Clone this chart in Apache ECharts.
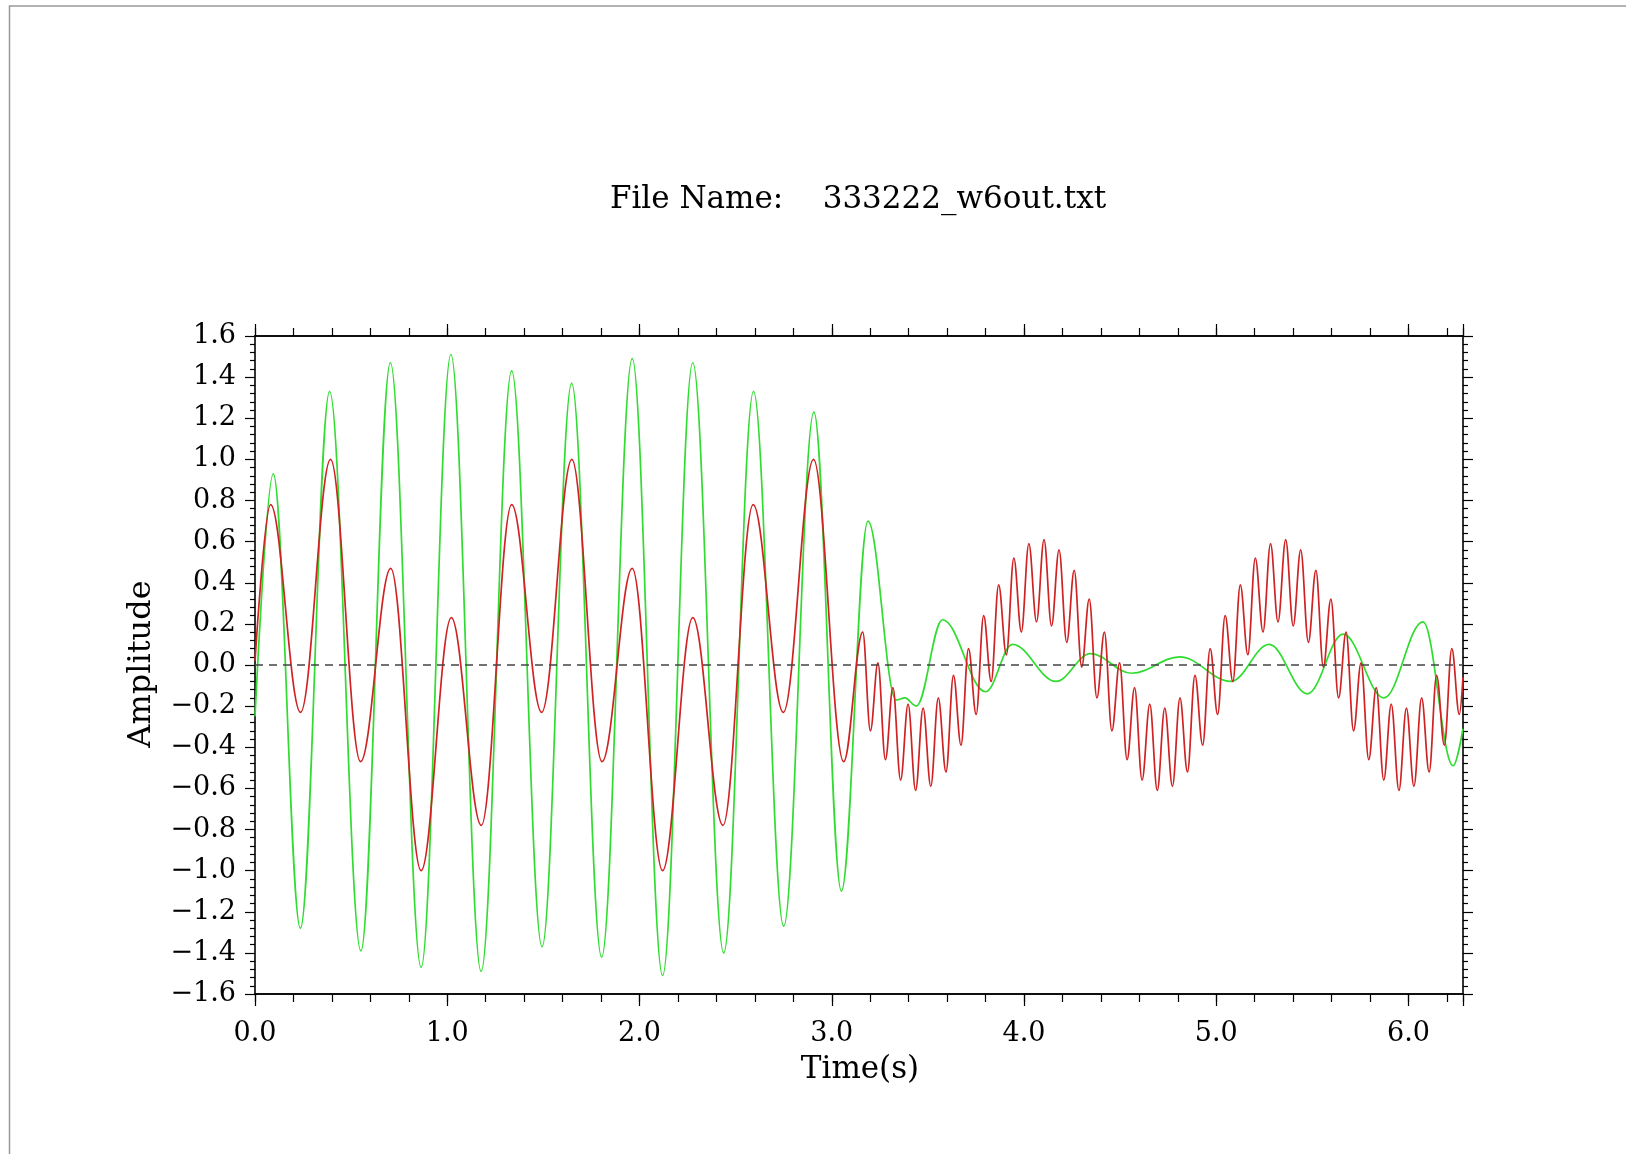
<!DOCTYPE html>
<html>
<head>
<meta charset="utf-8">
<script src="https://cdn.jsdelivr.net/npm/echarts@6/dist/echarts.min.js"></script>
<style>
  html, body { margin: 0; padding: 0; background: #fff; }
  #chart { width: 1626px; height: 1154px; }
</style>
</head>
<body>
<div id="chart"></div>
<script>
// Axis ranges
const timeRange = [0, 6.2832];
const ampRange = [-1.6, 1.6];

// Input signal (red): turning points [time s, amplitude], first half
const inputFirstHalf = [
  [0.000, 0.02],
  [0.081, 0.78], [0.237, -0.23], [0.393, 1.00], [0.549, -0.47],
  [0.706, 0.47], [0.864, -1.00], [1.021, 0.23], [1.177, -0.78],
  [1.335, 0.78], [1.491, -0.23], [1.648, 1.00], [1.805, -0.47],
  [1.962, 0.47], [2.120, -1.00], [2.277, 0.23], [2.434, -0.78],
  [2.591, 0.78], [2.748, -0.23], [2.905, 1.00], [3.062, -0.47]
];

// Input signal (red): turning points, second half (fast ripple on a slow wave)
const inputSecondHalf = [
  [3.161, 0.16], [3.201, -0.32], [3.240, 0.01], [3.279, -0.46],
  [3.318, -0.11], [3.358, -0.56], [3.397, -0.19], [3.436, -0.61],
  [3.475, -0.21], [3.515, -0.59], [3.554, -0.16], [3.594, -0.52],
  [3.633, -0.05], [3.672, -0.39], [3.711, 0.08], [3.751, -0.24],
  [3.790, 0.24], [3.829, -0.08], [3.868, 0.39], [3.908, 0.05],
  [3.947, 0.52], [3.986, 0.16], [4.025, 0.59], [4.065, 0.21],
  [4.104, 0.61], [4.143, 0.19], [4.182, 0.56], [4.222, 0.11],
  [4.261, 0.46], [4.300, -0.01], [4.339, 0.32], [4.379, -0.16],
  [4.418, 0.16], [4.457, -0.32], [4.497, 0.01], [4.536, -0.46],
  [4.575, -0.11], [4.614, -0.56], [4.654, -0.19], [4.693, -0.61],
  [4.732, -0.21], [4.772, -0.59], [4.811, -0.16], [4.850, -0.52],
  [4.889, -0.05], [4.929, -0.39], [4.968, 0.08], [5.007, -0.24],
  [5.046, 0.24], [5.086, -0.08], [5.125, 0.39], [5.164, 0.05],
  [5.203, 0.52], [5.243, 0.16], [5.282, 0.59], [5.321, 0.21],
  [5.361, 0.61], [5.400, 0.19], [5.439, 0.56], [5.479, 0.11],
  [5.518, 0.46], [5.557, -0.01], [5.596, 0.32], [5.636, -0.16],
  [5.675, 0.16], [5.714, -0.32], [5.753, 0.01], [5.793, -0.46],
  [5.832, -0.11], [5.871, -0.56], [5.910, -0.19], [5.950, -0.61],
  [5.989, -0.21], [6.028, -0.59], [6.068, -0.16], [6.107, -0.52],
  [6.146, -0.05], [6.186, -0.39], [6.225, 0.08], [6.264, -0.24],
  [6.283, -0.06]
];

// Output signal (green): turning points, first half
const outputFirstHalf = [
  [0.000, -0.25],
  [0.095, 0.93], [0.236, -1.28], [0.388, 1.33], [0.551, -1.39],
  [0.704, 1.47], [0.864, -1.47], [1.019, 1.51], [1.176, -1.49],
  [1.335, 1.43], [1.493, -1.37], [1.647, 1.37], [1.803, -1.42],
  [1.962, 1.49], [2.120, -1.51], [2.277, 1.47], [2.438, -1.40],
  [2.593, 1.33], [2.750, -1.27], [2.907, 1.23], [3.050, -1.10]
];

// Output signal (green): turning points, second half (decaying response)
const outputSecondHalf = [
  [3.188, 0.70], [3.335, -0.17], [3.380, -0.16], [3.440, -0.20],
  [3.576, 0.22], [3.800, -0.13], [3.940, 0.10], [4.166, -0.08],
  [4.345, 0.055], [4.560, -0.04], [4.810, 0.04], [5.075, -0.08],
  [5.275, 0.10], [5.474, -0.14], [5.660, 0.15], [5.872, -0.16],
  [6.075, 0.21], [6.232, -0.49], [6.283, -0.31]
];

const inputSignal = inputFirstHalf.concat(inputSecondHalf);
const outputSignal = outputFirstHalf.concat(outputSecondHalf);

const SERIF = '"DejaVu Serif", "Liberation Serif", serif';
const tickFont = { fontFamily: SERIF, fontSize: 27, color: '#000' };

function ampLabel(v) {
  const s = Math.abs(v).toFixed(1);
  return v < -1e-9 ? '\u2212' + s : s;
}
function timeLabel(v) {
  return Math.abs(v - Math.round(v)) < 1e-6 ? v.toFixed(1) : '';
}

const axisLineStyle = { color: '#000', width: 1.6 };
const tickLineStyle = { color: '#000', width: 1.2 };

function timeAxis(position, interval, tickLen, withLabels) {
  return {
    type: 'value', position: position,
    min: timeRange[0], max: timeRange[1], interval: interval,
    axisLine: { show: true, onZero: false, lineStyle: axisLineStyle },
    axisTick: { show: true, length: tickLen, lineStyle: tickLineStyle },
    axisLabel: withLabels
      ? Object.assign({ show: true, margin: 26, formatter: timeLabel }, tickFont)
      : { show: false },
    splitLine: { show: false }
  };
}
function ampAxis(position, withLabels) {
  return {
    type: 'value', position: position,
    min: ampRange[0], max: ampRange[1], interval: 0.2,
    axisLine: { show: true, onZero: false, lineStyle: axisLineStyle },
    axisTick: { show: true, length: 10, lineStyle: tickLineStyle },
    minorTick: { show: true, splitNumber: 5, length: 5, lineStyle: tickLineStyle },
    axisLabel: withLabels
      ? Object.assign({ show: true, margin: 19, formatter: ampLabel }, tickFont)
      : { show: false },
    splitLine: { show: false },
    minorSplitLine: { show: false }
  };
}

const chart = echarts.init(document.getElementById('chart'), null, { renderer: 'canvas' });
chart.setOption({
  animation: false,
  backgroundColor: '#fff',
  grid: { left: 255, top: 336, width: 1208, height: 658, containLabel: false },
  xAxis: [
    timeAxis('bottom', 1, 12, true),
    timeAxis('bottom', 0.2, 8, false),
    timeAxis('top', 1, 12, false),
    timeAxis('top', 0.2, 8, false)
  ],
  yAxis: [ampAxis('left', true), ampAxis('right', false)],
  graphic: [
    { type: 'rect', silent: true, shape: { x: 9.5, y: 6, width: 2000, height: 2000 },
      style: { fill: 'none', stroke: '#999', lineWidth: 1.5 } },
    { type: 'text', x: 858, y: 200, silent: true,
      style: { text: 'File Name:    333222_w6out.txt', font: '31px ' + SERIF,
               fill: '#000', textAlign: 'center', textVerticalAlign: 'middle' } },
    { type: 'text', x: 860, y: 1070, silent: true,
      style: { text: 'Time(s)', font: '31px ' + SERIF,
               fill: '#000', textAlign: 'center', textVerticalAlign: 'middle' } },
    { type: 'text', x: 142, y: 664, rotation: Math.PI / 2, silent: true,
      style: { text: 'Amplitude', font: '32px ' + SERIF,
               fill: '#000', textAlign: 'center', textVerticalAlign: 'middle' } }
  ],
  series: [
    {
      name: 'Output', type: 'line', xAxisIndex: 0, yAxisIndex: 0,
      data: outputSignal, showSymbol: false, symbol: 'none',
      smooth: 0.364, smoothMonotone: 'x',
      lineStyle: { color: '#2fdc2f', width: 1.7 },
      markLine: {
        silent: true, symbol: ['none', 'none'], label: { show: false },
        lineStyle: { color: '#444', width: 1.6, type: [8, 6] },
        data: [{ yAxis: 0 }]
      },
      z: 2
    },
    {
      name: 'Input', type: 'line', xAxisIndex: 0, yAxisIndex: 0,
      data: inputSignal, showSymbol: false, symbol: 'none',
      smooth: 0.364, smoothMonotone: 'x',
      lineStyle: { color: '#cf2222', width: 1.7 },
      z: 3
    }
  ]
});
</script>
</body>
</html>
